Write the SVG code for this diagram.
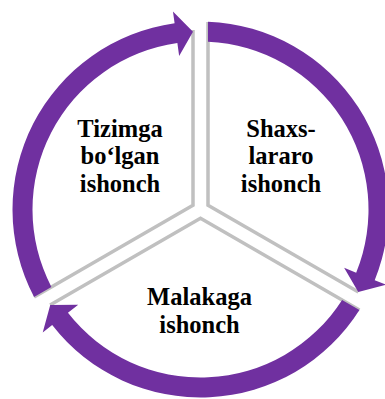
<svg xmlns="http://www.w3.org/2000/svg" width="385" height="399" viewBox="0 0 385 399">
<style>
.sep{fill:none;stroke:#c0c0c0;stroke-width:3.5;stroke-linejoin:miter}
.arrow{fill:#7030a0;stroke:none}
.lbl{font-family:'Liberation Serif','Times New Roman',serif;font-weight:700;font-size:24.5px;fill:#000;text-anchor:middle}
</style>
<rect width="385" height="399" fill="#ffffff"/>
<g id="separators">
<polyline class="sep" points="193,30 193,205.17 34.07,296.93"/>
<polyline class="sep" points="208,22 208,205.17 358.4,292"/>
<polyline class="sep" points="359.43,309.92 200.5,218.16 50.1,305"/>
</g>
<g id="connectors">
<path class="arrow" d="M 208 21.65 A 188 188 0 0 1 374.706 280.185 L 385.826 284.697 L 358.266 291.926 L 344.127 267.778 L 356.174 272.665 A 168 168 0 0 0 208 41.667 Z"/>
<path class="arrow" d="M 359.433 309.92 A 188 188 0 0 1 52.182 325.024 L 42.715 332.398 L 50.234 304.917 L 78.217 304.746 L 67.961 312.734 A 168 168 0 0 0 342.098 299.912 Z"/>
<path class="arrow" d="M 34.067 296.93 A 188 188 0 0 1 174.612 23.291 L 172.96 11.405 L 193 31.658 L 179.156 55.976 L 177.366 43.1 A 168 168 0 0 0 51.402 286.922 Z"/>
</g>
<g id="node-tizimga">
<text class="lbl" x="120" y="136.7">Tizimga</text>
<text class="lbl" x="120" y="163.5">bo‘lgan</text>
<text class="lbl" x="120" y="191.5">ishonch</text>
</g>
<g id="node-shaxslararo">
<text class="lbl" x="281" y="136.7">Shaxs-</text>
<text class="lbl" x="281" y="163.5">lararo</text>
<text class="lbl" x="281" y="191.5">ishonch</text>
</g>
<g id="node-malakaga">
<text class="lbl" x="199.5" y="305">Malakaga</text>
<text class="lbl" x="199.5" y="333">ishonch</text>
</g>
</svg>
